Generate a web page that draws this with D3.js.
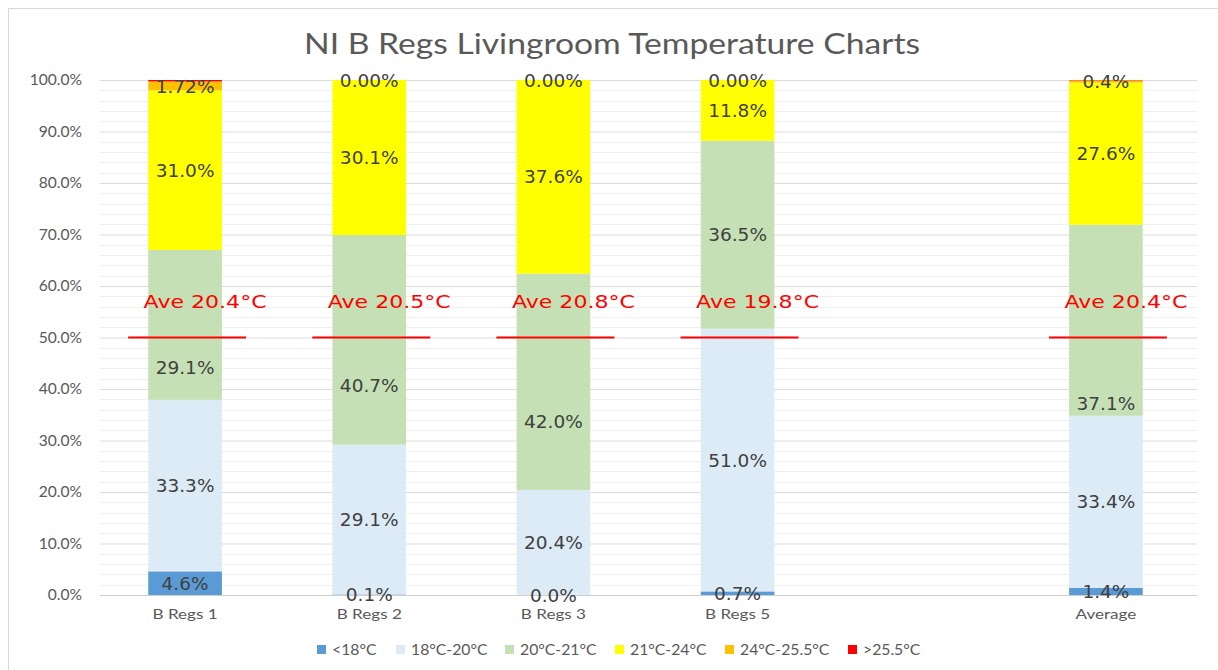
<!DOCTYPE html>
<html>
<head>
<meta charset="utf-8">
<script src="https://cdn.jsdelivr.net/npm/d3@7"></script>
<style>
  body { margin: 0; background: #fff; }
  svg { display: block; }
</style>
</head>
<body>
<div id="chart"></div>
<script>
// Categories (one empty slot between B Regs 5 and Average)
let categories = ["B Regs 1", "B Regs 2", "B Regs 3", "B Regs 5", "", "Average"];
let barNames = ["B Regs 1", "B Regs 2", "B Regs 3", "B Regs 5", "Average"];

// Series (percent of time)
let seriesNames = ["<18°C", "18°C-20°C", "20°C-21°C", "21°C-24°C", "24°C-25.5°C", ">25.5°C"];
let seriesColors = ["#5b9bd5", "#ddebf7", "#c5e0b4", "#ffff00", "#ffc000", "#ff0000"];
let below18 = [4.6, 0.1, 0.0, 0.7, 1.4];
let from18to20 = [33.3, 29.1, 20.4, 51.0, 33.4];
let from20to21 = [29.1, 40.7, 42.0, 36.5, 37.1];
let from21to24 = [31.0, 30.1, 37.6, 11.8, 27.6];
let from24to255 = [1.72, 0.00, 0.00, 0.00, 0.4];
let above255 = [0.28, 0.0, 0.0, 0.0, 0.07];
let orangeDigits = [2, 2, 2, 2, 1];

// green labels were dragged off centre in the original (value axis %), null = centred
let greenLabelAt = [44.3, 40.8, 33.8, null, 37.3];

// Average temperatures shown as annotations
let aveTemps = [20.4, 20.5, 20.8, 19.8, 20.4];

let yTicks = [0, 10, 20, 30, 40, 50, 60, 70, 80, 90, 100];

let seriesValues = [below18, from18to20, from20to21, from21to24, from24to255, above255];

// Build rows for the stack
let rows = barNames.map(function(name, i) {
    let row = {name: name};
    seriesNames.forEach(function(s, j) { row[s] = seriesValues[j][i]; });
    return row;
});

// Stretch text horizontally (the original picture is widened a bit)
function stretch(sel, k) {
    sel.each(function() {
        let w = this.getComputedTextLength();
        d3.select(this).attr("textLength", w * k).attr("lengthAdjust", "spacingAndGlyphs");
    });
}

let width = 1218, height = 670;
let svg = d3.select("#chart").append("svg")
    .attr("width", width)
    .attr("height", height);

// Chart frame
svg.append("rect")
    .attr("x", 8.5).attr("y", 8.5)
    .attr("width", 1240).attr("height", 700)
    .attr("fill", "#fff")
    .attr("stroke", "#d9d9d9");

let gridLeft = 100, gridRight = 1197;

let x = d3.scaleBand()
    .domain(categories.map(function(c) { return c === "" ? "_blank" : c; }))
    .range([93, 1198])
    .paddingInner(0.6)
    .paddingOuter(0.3);
let y = d3.scaleLinear().domain([0, 100]).range([595, 80]);

let uiFont = "Lato, 'Open Sans', sans-serif";
let labelFont = "'DejaVu Sans', Verdana, sans-serif";

// Title
svg.append("text")
    .attr("x", 612).attr("y", 54)
    .attr("text-anchor", "middle")
    .attr("textLength", 616)
    .attr("lengthAdjust", "spacingAndGlyphs")
    .style("font-family", uiFont)
    .style("font-size", "28px")
    .style("fill", "#595959")
    .text("NI B Regs Livingroom Temperature Charts");

// Minor gridlines every 2%
svg.append("g")
    .selectAll("line")
    .data(d3.range(0, 101, 2).filter(function(v) { return v % 10 !== 0; }))
    .enter().append("line")
    .attr("x1", gridLeft).attr("x2", gridRight)
    .attr("y1", function(d) { return Math.round(y(d)) + 0.5; })
    .attr("y2", function(d) { return Math.round(y(d)) + 0.5; })
    .attr("stroke", "#f0f0f0");

// Major gridlines + y axis labels
let yAxis = svg.append("g")
    .attr("transform", "translate(" + gridLeft + ",0)")
    .call(d3.axisLeft(y).tickValues(yTicks).tickSize(-(gridRight - gridLeft)).tickPadding(18)
        .tickFormat(function(d) { return d.toFixed(1) + "%"; }));
yAxis.select(".domain").remove();
yAxis.selectAll(".tick line").attr("stroke", function(d) { return d === 0 ? "#cfcfcf" : "#dcdcdc"; });
yAxis.selectAll(".tick text")
    .style("font-family", uiFont)
    .style("font-size", "15px")
    .style("fill", "#595959")
    .call(stretch, 1.04);

// Stacked bars
let stack = d3.stack().keys(seriesNames);
let stacked = stack(rows);

let layers = svg.append("g")
    .selectAll("g")
    .data(stacked)
    .enter().append("g")
    .attr("fill", function(d, i) { return seriesColors[i]; });

layers.selectAll("rect")
    .data(function(d) { return d; })
    .enter().append("rect")
    .attr("x", function(d) { return x(d.data.name); })
    .attr("width", x.bandwidth())
    .attr("y", function(d) { return y(d[1]); })
    .attr("height", function(d) { return y(d[0]) - y(d[1]); });

// Data labels (not on the >25.5 series)
stacked.forEach(function(layer, j) {
    if (j === 5) return;
    svg.append("g")
        .selectAll("text")
        .data(layer)
        .enter().append("text")
        .attr("x", function(d) { return x(d.data.name) + x.bandwidth() / 2; })
        .attr("y", function(d, i) {
            if (j === 2 && greenLabelAt[i] !== null) return y(greenLabelAt[i]);
            return y((d[0] + d[1]) / 2);
        })
        .attr("dy", "0.36em")
        .attr("text-anchor", "middle")
        .style("font-family", labelFont)
        .style("font-size", "18.5px")
        .style("fill", "#404040")
        .text(function(d, i) {
            let digits = j === 4 ? orangeDigits[i] : 1;
            return seriesValues[j][i].toFixed(digits) + "%";
        });
});

// Average temperature annotations
let ann = svg.append("g")
    .selectAll("g")
    .data(barNames)
    .enter().append("g");
ann.append("line")
    .attr("x1", function(d) { return x(d) + x.bandwidth() / 2 - 57; })
    .attr("x2", function(d) { return x(d) + x.bandwidth() / 2 + 61; })
    .attr("y1", y(50))
    .attr("y2", y(50))
    .attr("stroke", "#ff0000")
    .attr("stroke-width", 2);
ann.append("text")
    .attr("x", function(d) { return x(d) + x.bandwidth() / 2 + 20; })
    .attr("y", y(57))
    .attr("dy", "0.36em")
    .attr("text-anchor", "middle")
    .attr("textLength", 123)
    .attr("lengthAdjust", "spacingAndGlyphs")
    .style("font-family", labelFont)
    .style("font-size", "18px")
    .style("fill", "#ff0000")
    .text(function(d, i) { return "Ave " + aveTemps[i].toFixed(1) + "°C"; });

// X axis labels
let xAxis = svg.append("g")
    .attr("transform", "translate(0,595)")
    .call(d3.axisBottom(x).tickSize(0).tickPadding(14)
        .tickFormat(function(d) { return d === "_blank" ? "" : d; }));
xAxis.select(".domain").remove();
xAxis.selectAll(".tick text")
    .style("font-family", uiFont)
    .style("font-size", "14px")
    .style("fill", "#595959")
    .call(stretch, 1.22);

// Legend
let legendX = [317, 396, 505, 615, 725, 848];
let legend = svg.append("g")
    .selectAll("g")
    .data(seriesNames)
    .enter().append("g")
    .attr("transform", function(d, i) { return "translate(" + legendX[i] + ",645)"; });
legend.append("rect")
    .attr("width", 9).attr("height", 9)
    .attr("fill", function(d, i) { return seriesColors[i]; });
legend.append("text")
    .attr("x", 15).attr("y", 4.5)
    .attr("dy", "0.36em")
    .style("font-family", uiFont)
    .style("font-size", "15px")
    .style("fill", "#595959")
    .text(function(d) { return d; })
    .call(stretch, 1.05);
</script>
</body>
</html>
